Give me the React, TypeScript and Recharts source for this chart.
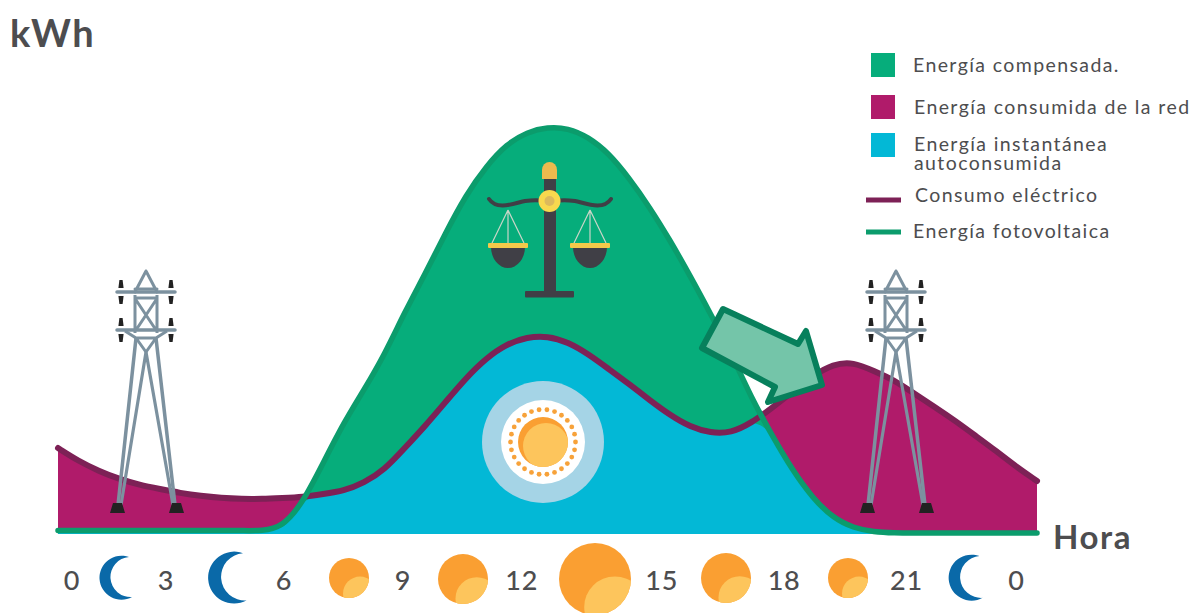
import React from "react";
import { ComposedChart, Area, Line, XAxis, YAxis } from "recharts";

const hours = [0,0.5,1,1.5,2,2.5,3,3.5,4,4.5,5,5.5,6,6.5,7,7.5,8,8.5,9,9.5,10,10.5,11,11.5,12,12.5,13,13.5,14,14.5,15,15.5,16,16.5,17,17.5,18,18.5,19,19.5,20,20.5,21,21.5,22,22.5,23,23.5,24];
const consumo = [.86,.73,.63,.55,.49,.45,.41,.38,.36,.35,.35,.36,.37,.40,.43,.51,.64,.86,1.08,1.32,1.56,1.76,1.90,1.97,1.98,1.92,1.80,1.65,1.50,1.34,1.19,1.07,1.01,1.01,1.11,1.26,1.42,1.58,1.70,1.72,1.63,1.54,1.40,1.27,1.13,.98,.83,.67,.53];
const fotovoltaica = [.035,.035,.035,.035,.035,.035,.035,.035,.035,.035,.03,.07,.31,.71,1.11,1.44,1.79,2.22,2.60,3.01,3.39,3.68,3.90,4.02,4.07,4.06,3.97,3.81,3.56,3.27,2.94,2.58,2.20,1.81,1.36,.99,.64,.36,.16,.06,.02,.01,.01,.01,.01,.01,.01,.01,.01];
const tickHours = [0.34,2.65,5.54,8.46,11.37,14.8,17.8,20.8,23.5];
const tickLabels = ["0","3","6","9","12","15","18","21","0"];

const data = hours.map((h, i) => ({
  h,
  consumo: consumo[i],
  fv: fotovoltaica[i],
  auto: Math.min(consumo[i], fotovoltaica[i]),
}));

const FONT = "Lato, sans-serif";
const TXT = "#4d4d4f";
const GREEN = "#06ad7b";
const GREEN_LINE = "#0b9c6c";
const MAGENTA = "#b01b6a";
const CYAN = "#03b8d6";
const MAROON = "#7d2156";

const HourTick = (props: any) => {
  const { x, payload, index } = props;
  const i = payload?.index ?? index;
  return (
    <text x={x} y={590} textAnchor="middle" fontFamily={FONT} fontSize={27} fontWeight={500} fill={TXT} letterSpacing={0.8}>
      {tickLabels[i]}
    </text>
  );
};

const Moon = ({ x, cy, r }: { x: number; cy: number; r: number }) => (
  <g transform={`translate(${x},${cy}) scale(${r / 22})`}>
    <path d="M33 -21 A22 22 0 1 0 36 19 A20 20 0 0 1 33 -21 Z" fill="#0a69a8" />
  </g>
);

const Sun = ({ id, cx, cy, r }: { id: string; cx: number; cy: number; r: number }) => (
  <g>
    <clipPath id={id}><circle cx={cx} cy={cy} r={r} /></clipPath>
    <circle cx={cx} cy={cy} r={r} fill="#fa9f32" />
    <circle cx={cx + r * 0.55} cy={cy + r * 0.78} r={r * 0.85} fill="#fdc55c" clipPath={`url(#${id})`} />
  </g>
);

const Tower = ({ x }: { x: number }) => {
  const s = "#7c919f";
  const ins = (ix: number, iy: number) => (
    <g fill="#222">
      <path d={`M${ix - 1.6} ${iy - 12} h3.2 l1 8 h-5.2 Z M${ix - 2.6} ${iy + 4} h5.2 l-1 8 h-3.2 Z`} />
    </g>
  );
  return (
    <g transform={`translate(${x},0)`}>
      {ins(-25, 292)}{ins(25, 292)}{ins(-25, 330)}{ins(25, 330)}
      <g stroke={s} fill="none" strokeWidth={3}>
        <path d="M0 271 L-11 292 M0 271 L11 292 M-11 289 H11" strokeLinecap="round" />
        <path d="M-29 292 H29 M-29 330 H29" strokeWidth={3.5} strokeLinecap="round" />
        <path d="M-11 295 V333 M11 295 V333 M-11 298 H11 M-10 300 L10 330 M10 300 L-10 330" />
        <path d="M-21 331 L-10 338 H10 L21 331 M-10 338 L0 352 L10 338" />
        <path d="M-10 338 L-28 505 M10 338 L29 505" strokeWidth={3.5} />
        <path d="M0 352 L-25 505 M0 352 L27 505" strokeWidth={3.2} />
      </g>
      <path d="M-33 503 h9 l3 10 h-15 Z M26 503 h9 l3 10 h-15 Z" fill="#222" />
    </g>
  );
};

const Pan = ({ x }: { x: number }) => (
  <g>
    <path d={`M${x} 210 L${x - 16} 243 M${x} 210 V243 M${x} 210 L${x + 16} 243`} stroke="#c9d6c8" strokeWidth={1.2} fill="none" />
    <path d={`M${x - 17} 247 A17 21 0 0 0 ${x + 17} 247 Z`} fill="#403f46" />
    <rect x={x - 20} y={243} width={40} height={5} rx={1} fill="#f4c94a" />
  </g>
);

const Balance = () => (
  <g>
    <rect x={544} y={178} width={12} height={115} fill="#403f46" />
    <rect x={525} y={291} width={49} height={6.5} rx={1} fill="#403f46" />
    <path d="M542 179 V170 A7.5 8 0 0 1 557 170 V179 Z" fill="#ecba4e" />
    <path d="M489 199 C497 211 515 203 525 201 C532 200 540 200 545 201 M611 199 C603 211 585 203 575 201 C568 200 560 200 555 201" fill="none" stroke="#403f46" strokeWidth={4} strokeLinecap="round" />
    <Pan x={508} />
    <Pan x={590} />
    <circle cx={549.5} cy={201} r={11} fill="#f8d84e" />
    <circle cx={549.5} cy={201} r={5} fill="#dcb95c" />
  </g>
);

const dotAngles = Array.from({ length: 26 }, (_, i) => (i * 2 * Math.PI) / 26);
const CenterSun = () => {
  const cx = 543, cy = 442;
  return (
    <g>
      <clipPath id="cs"><circle cx={cx} cy={cy} r={25} /></clipPath>
      <circle cx={cx} cy={cy} r={61} fill="#a5d4e6" />
      <circle cx={cx} cy={cy} r={42} fill="#ffffff" />
      {dotAngles.map((a) => (
        <circle key={a} cx={cx + 32.5 * Math.cos(a)} cy={cy + 32.5 * Math.sin(a)} r={2.4} fill="#f7a23a" />
      ))}
      <circle cx={cx} cy={cy} r={25} fill="#fa9f32" />
      <circle cx={cx + 3} cy={cy + 4} r={23} fill="#fdc55c" clipPath="url(#cs)" />
    </g>
  );
};

const LegendSwatch = ({ y, c }: { y: number; c: string }) => <rect x={871} y={y} width={24} height={24} fill={c} />;
const LegendLine = ({ y, c }: { y: number; c: string }) => <rect x={866} y={y - 2.5} width={35} height={5} fill={c} />;
const LegendText = ({ x, y, t }: { x: number; y: number; t: string }) => (
  <text x={x} y={y} fontFamily={FONT} fontSize={19.5} letterSpacing={1.4} fill={TXT}>{t}</text>
);

export default function App() {
  return (
    <div style={{ position: "absolute", left: 0, top: 0, width: 1190, height: 613, background: "#fff" }}>
      <ComposedChart width={1190} height={613} data={data} margin={{ top: 70, right: 153, bottom: 0, left: 58 }}>
        <XAxis
          dataKey="h"
          type="number"
          domain={[0, 24]}
          ticks={tickHours}
          interval={0}
          height={79}
          axisLine={false}
          tickLine={false}
          tick={HourTick}
        />
        <YAxis width={0} domain={[0, 4.64]} tick={false} tickLine={false} axisLine={{ stroke: "#dedede", strokeWidth: 4 }} />
        <Area dataKey="consumo" type="basis" fill={MAGENTA} fillOpacity={1} stroke="none" isAnimationActive={false} />
        <Area dataKey="fv" type="basis" fill={GREEN} fillOpacity={1} stroke="none" isAnimationActive={false} />
        <Area dataKey="auto" type="monotone" fill={CYAN} fillOpacity={1} stroke="none" isAnimationActive={false} />
        <Line dataKey="consumo" type="basis" stroke={MAROON} strokeWidth={6} strokeLinecap="round" dot={false} isAnimationActive={false} />
        <Line dataKey="fv" type="basis" stroke={GREEN_LINE} strokeWidth={5.5} strokeLinecap="round" dot={false} isAnimationActive={false} />
      </ComposedChart>
      <svg width={1190} height={613} style={{ position: "absolute", left: 0, top: 0, pointerEvents: "none" }}>
        <text x={10} y={47} fontFamily={FONT} fontWeight={700} fontSize={38} fill={TXT} letterSpacing={1.6}>kWh</text>
        <text x={1053} y={549} fontFamily={FONT} fontWeight={700} fontSize={33} fill={TXT} letterSpacing={1.6}>Hora</text>

        <LegendSwatch y={53} c={GREEN} />
        <LegendSwatch y={95} c={MAGENTA} />
        <LegendSwatch y={133} c={CYAN} />
        <LegendLine y={200} c={MAROON} />
        <LegendLine y={232} c={GREEN_LINE} />
        <LegendText x={913} y={72} t="Energía compensada." />
        <LegendText x={914} y={114} t="Energía consumida de la red" />
        <LegendText x={914} y={151} t="Energía instantánea" />
        <LegendText x={914} y={170} t="autoconsumida" />
        <LegendText x={915} y={202} t="Consumo eléctrico" />
        <LegendText x={913} y={238} t="Energía fotovoltaica" />

        <Tower x={146} />
        <Tower x={896} />
        <Balance />
        <CenterSun />
        <path d="M723 309 L798 344 L806 331 L822 385 L768 402 L775 387 L702 348 Z" fill="#74c5a9" stroke="#07805c" strokeWidth={6} strokeLinejoin="round" />

        <Moon x={96} cy={578} r={22} />
        <Moon x={204} cy={578} r={26} />
        <Moon x={945} cy={578} r={23} />
        <Sun id="s1" cx={349} cy={578} r={20} />
        <Sun id="s2" cx={463} cy={579} r={25} />
        <Sun id="s3" cx={595} cy={579} r={36} />
        <Sun id="s4" cx={726} cy={578} r={25} />
        <Sun id="s5" cx={848} cy={578} r={20} />
      </svg>
    </div>
  );
}
